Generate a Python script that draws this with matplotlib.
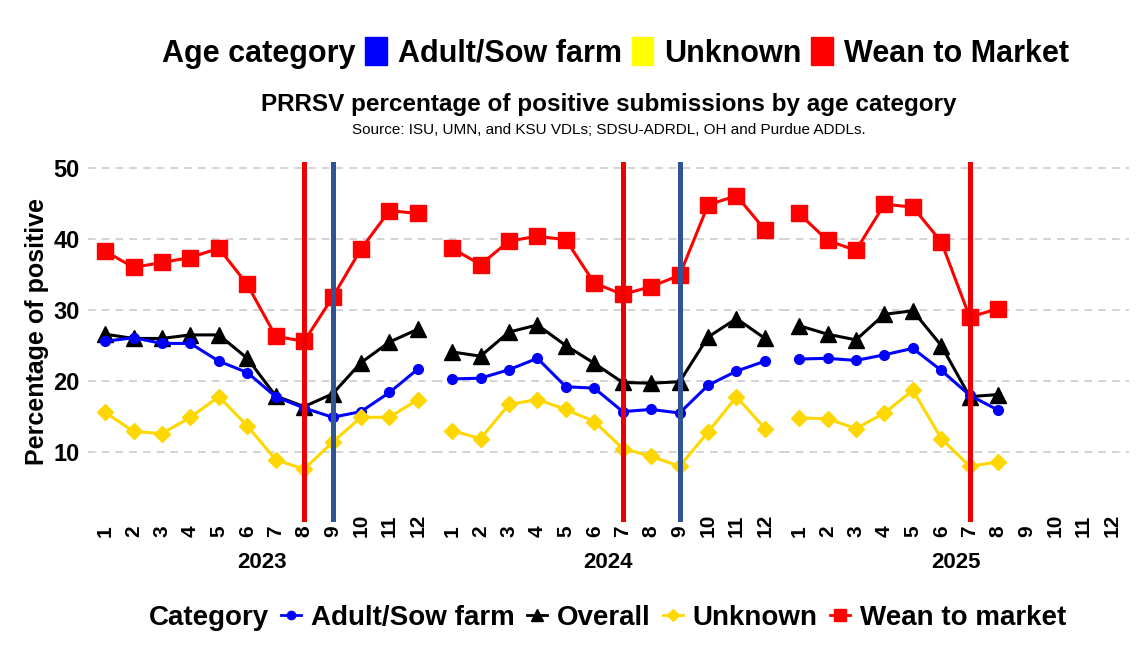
import matplotlib
matplotlib.use("Agg")
import matplotlib.pyplot as plt
from matplotlib.lines import Line2D
from matplotlib.patches import Patch

plt.rcParams['font.family'] = ['Liberation Sans', 'DejaVu Sans']
plt.rcParams['font.weight'] = 'bold'

years = [2023, 2024, 2025]
months = list(range(1, 13))

adult = {
    2023: [25.6, 26.1, 25.3, 25.3, 22.8, 21.2, 17.8, 16.2, 14.9, 15.7, 18.4, 21.7],
    2024: [20.3, 20.4, 21.6, 23.2, 19.2, 19.0, 15.7, 16.0, 15.5, 19.4, 21.4, 22.8],
    2025: [23.1, 23.2, 22.9, 23.7, 24.6, 21.5, 18.0, 15.9],
}
overall = {
    2023: [26.6, 26.0, 26.0, 26.5, 26.5, 23.2, 17.9, 16.4, 18.2, 22.6, 25.5, 27.3],
    2024: [24.1, 23.5, 26.9, 27.9, 25.0, 22.5, 19.8, 19.7, 19.9, 26.2, 28.8, 26.0],
    2025: [27.8, 26.6, 25.8, 29.4, 29.9, 25.0, 17.8, 18.1],
}
unknown = {
    2023: [15.6, 12.9, 12.6, 14.9, 17.8, 13.7, 8.9, 7.6, 11.4, 14.9, 14.9, 17.4],
    2024: [13.0, 11.9, 16.7, 17.4, 16.0, 14.3, 10.5, 9.4, 8.0, 12.8, 17.8, 13.3],
    2025: [14.8, 14.7, 13.3, 15.5, 18.7, 11.9, 8.0, 8.6],
}
wean = {
    2023: [38.3, 36.0, 36.7, 37.4, 38.7, 33.6, 26.3, 25.6, 31.8, 38.6, 44.0, 43.6],
    2024: [38.7, 36.4, 39.7, 40.4, 39.9, 33.8, 32.2, 33.3, 34.9, 44.8, 46.1, 41.3],
    2025: [43.6, 39.8, 38.4, 44.9, 44.5, 39.6, 29.0, 30.2],
}

red_lines = {2023: 8, 2024: 7, 2025: 7}
blue_lines = {2023: 9, 2024: 9}

# series: data, color, marker, markersize
series = [
    (wean, '#FF0000', 's', 11),
    (overall, 'black', '^', 12),
    (adult, '#0000FF', 'o', 7),
    (unknown, '#FFD700', 'D', 8),
]

fig = plt.figure(figsize=(11.44, 6.54), dpi=100)
left, bottom, pw, ph = 88 / 1144, 1 - 522 / 654, 347 / 1144, 360 / 654

for i, yr in enumerate(years):
    ax = fig.add_axes([left + i * pw, bottom, pw, ph])
    for s in ax.spines.values():
        s.set_visible(False)
    for yv in [10, 20, 30, 40, 50]:
        ax.axhline(yv, color='#C8C8C8', lw=1.1, ls=(0, (5, 4)), zorder=0)
    for data, col, mk, ms in series:
        vals = data[yr]
        ax.plot(months[:len(vals)], vals, color=col, lw=2.2, marker=mk,
                markersize=ms, zorder=2)
    if yr in red_lines:
        ax.axvline(red_lines[yr], color='#EE0000', lw=3.6, zorder=5)
    if yr in blue_lines:
        ax.axvline(blue_lines[yr], color='#2F5597', lw=3.6, zorder=5)
    ax.set_xlim(0.4, 12.6)
    ax.set_ylim(0.15, 50.85)
    ax.set_xticks(months)
    ax.set_xticklabels([str(m) for m in months], rotation=90, fontsize=15,
                       fontweight='bold', va='bottom')
    ax.tick_params(axis='x', length=0, pad=11)
    ax.set_yticks([10, 20, 30, 40, 50])
    if i == 0:
        ax.tick_params(axis='y', length=0, pad=6, labelsize=17)
        ax.set_ylabel('Percentage of positive', fontsize=18, fontweight='bold')
        ax.yaxis.set_label_coords(-0.113, 0.53)
    else:
        ax.tick_params(axis='y', length=0, labelleft=False)
    fig.text(left + (i + 0.5) * pw, 1 - 562 / 654, str(yr), ha='center',
             va='center', fontsize=16, fontweight='bold')

cx = left + 1.5 * pw
fig.text(cx, 1 - 105 / 654, 'PRRSV percentage of positive submissions by age category',
         ha='center', va='center', fontsize=17.5, fontweight='bold')
fig.text(cx, 1 - 130 / 654, 'Source: ISU, UMN, and KSU VDLs; SDSU-ADRDL, OH and Purdue ADDLs.',
         ha='center', va='center', fontsize=11, fontweight='normal')

# top legend
top_handles = [Patch(alpha=0),
               Patch(color='#0000FF'), Patch(color='#FFFF00'), Patch(color='#FF0000')]
top_labels = ['Age category', 'Adult/Sow farm', 'Unknown', 'Wean to Market']
fig.legend(top_handles, top_labels, loc='center', bbox_to_anchor=(0.5236, 1 - 53 / 654),
           ncol=4, frameon=False, prop={'size': 22, 'weight': 'bold'},
           handlelength=0.7, handleheight=1.0, handletextpad=0.36, columnspacing=0.33)

# bottom legend
bot_handles = [Line2D([], [], alpha=0),
               Line2D([], [], color='#0000FF', marker='o', lw=2, markersize=6),
               Line2D([], [], color='black', marker='^', lw=2, markersize=9),
               Line2D([], [], color='#FFD700', marker='D', lw=2, markersize=6),
               Line2D([], [], color='#FF0000', marker='s', lw=2, markersize=8)]
bot_labels = ['Category', 'Adult/Sow farm', 'Overall', 'Unknown', 'Wean to market']
fig.legend(bot_handles, bot_labels, loc='center', bbox_to_anchor=(0.518, 1 - 618 / 654),
           ncol=5, frameon=False, prop={'size': 20, 'weight': 'bold'},
           handlelength=0.7, handletextpad=0.37, columnspacing=0.45)

fig.savefig('out.png', dpi=100)
